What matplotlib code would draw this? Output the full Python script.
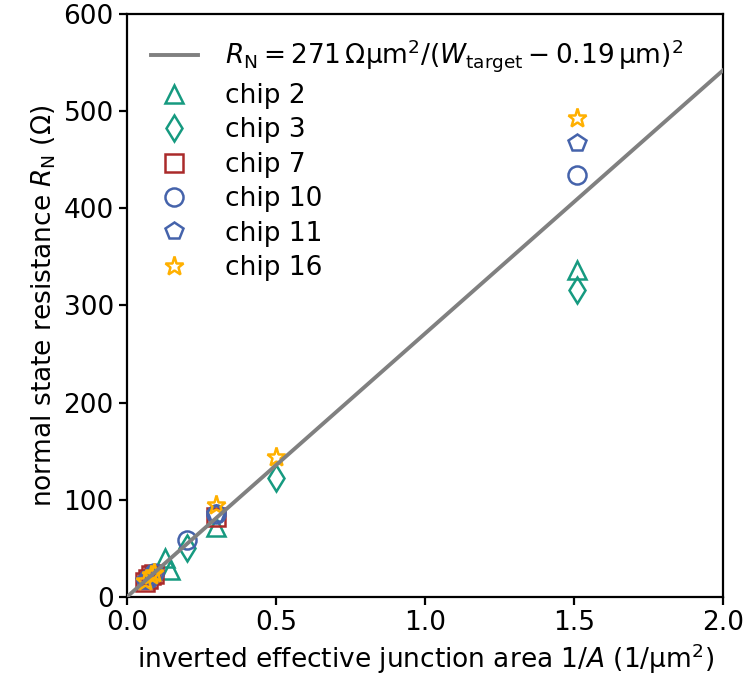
import numpy as np
import matplotlib.pyplot as plt

# fit: R_N = 271 Ohm um^2 / A
fit_coeff = 271
fit_x = np.array([0.0, 2.0])

chips = ['chip 2', 'chip 3', 'chip 7', 'chip 10', 'chip 11', 'chip 16']
inv_area = [
    [0.128, 0.145, 0.30, 1.51],
    [0.20, 0.50, 1.51],
    [0.06, 0.07, 0.08, 0.09, 0.30],
    [0.07, 0.09, 0.20, 0.30, 1.51],
    [0.06, 0.08, 0.30, 1.51],
    [0.06, 0.08, 0.09, 0.30, 0.50, 1.51],
]
resistance = [
    [40, 28, 72, 336],
    [50, 122, 316],
    [15, 18, 22, 24, 82],
    [18, 25, 59, 85, 434],
    [16, 21, 85, 467],
    [16, 22, 25, 95, 144, 493],
]
markers = ['^', 'd', 's', 'o', 'p', '*']
colors = ['#169a80', '#169a80', '#aa2a2a', '#4563ab', '#4563ab', '#ffb000']

plt.rcParams['font.size'] = 19

fig = plt.figure(figsize=(7.47, 6.94), dpi=100)
ax = fig.add_axes([0.170, 0.140, 0.798, 0.840])

ax.plot(fit_x, fit_coeff * fit_x, c='#808080', lw=2.8, zorder=5,
        label=r'$R_\mathrm{N} = 271\,\Omega\mathrm{\mu m}^2/(W_\mathrm{target} - 0.19\,\mathrm{\mu m})^2$')
for name, xs, ys, m, c in zip(chips, inv_area, resistance, markers, colors):
    ms = 14 if m == '*' else 13
    ax.plot(xs, ys, ls='none', marker=m, ms=ms, mfc='none', mec=c, mew=1.8, label=name)

ax.set_xlim(0, 2.0)
ax.set_ylim(0, 600)
ax.set_xticks([0.0, 0.5, 1.0, 1.5, 2.0])
ax.set_yticks(range(0, 601, 100))
ax.set_xlabel(r'inverted effective junction area $1/A$ (1/$\mathrm{\mu m}^2$)')
ax.set_ylabel(r'normal state resistance $R_\mathrm{N}$ ($\Omega$)')
for s in ax.spines.values():
    s.set_linewidth(1.6)
ax.tick_params(width=1.6, length=6)
ax.legend(loc='upper left', frameon=False, handlelength=1.8, handletextpad=1.0,
          labelspacing=0.32, borderaxespad=0.5)

fig.savefig('out.png', dpi=100)
